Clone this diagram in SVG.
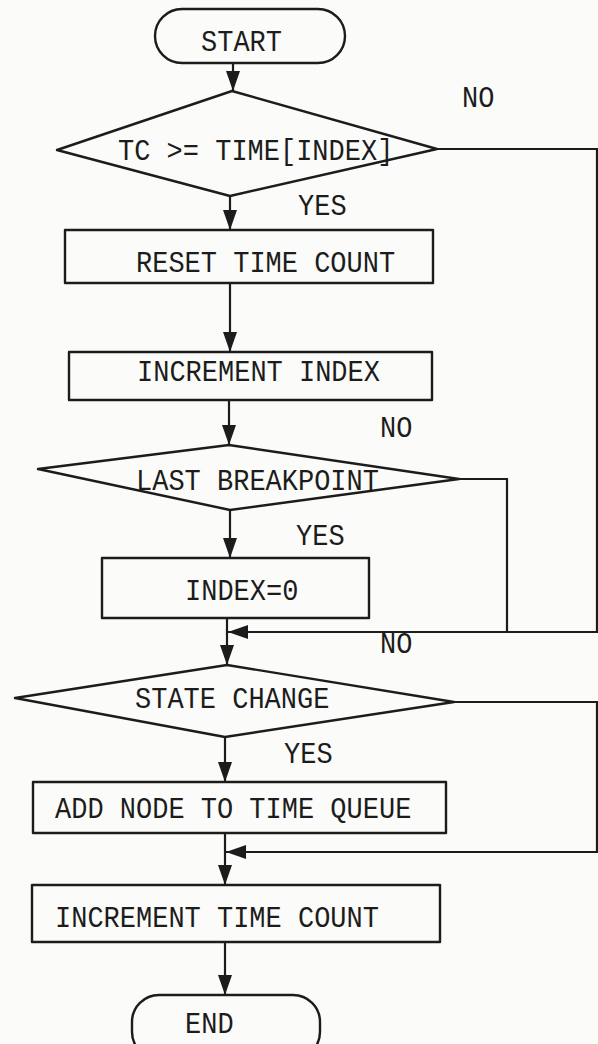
<svg xmlns="http://www.w3.org/2000/svg" width="598" height="1044" viewBox="0 0 598 1044">
  <style>
    .shape { fill: none; stroke: #1c1c1c; stroke-width: 2.4; stroke-linejoin: round; }
    .wire { fill: none; stroke: #1c1c1c; stroke-width: 2.2; }
    .lbl { font-family: "Liberation Mono", "DejaVu Sans Mono", monospace; font-size: 27px; fill: #1c1c1c; }
  </style>
  <defs>
    <marker id="arrow" viewBox="0 0 20 14" refX="20" refY="7" markerWidth="20" markerHeight="14" markerUnits="userSpaceOnUse" orient="auto">
      <path d="M0,0 L20,7 L0,14 Z" fill="#1c1c1c"/>
    </marker>
  </defs>
  <rect width="598" height="1044" fill="#fbfbf9"/>

  <!-- connectors and their branch labels -->
  <g id="connectors">
    <path class="wire" d="M233,63 V91" marker-end="url(#arrow)"/>
    <path class="wire" d="M230,196 V230" marker-end="url(#arrow)"/>
    <path class="wire" d="M437,149 H597 V632 H228" marker-end="url(#arrow)"/>
    <path class="wire" d="M230,283 V352" marker-end="url(#arrow)"/>
    <path class="wire" d="M229,400 V445" marker-end="url(#arrow)"/>
    <path class="wire" d="M230,510 V558" marker-end="url(#arrow)"/>
    <path class="wire" d="M459,479 H507 V632"/>
    <path class="wire" d="M227,618 V665" marker-end="url(#arrow)"/>
    <path class="wire" d="M454,702 H597 V852 H226" marker-end="url(#arrow)"/>
    <path class="wire" d="M225,737 V782" marker-end="url(#arrow)"/>
    <path class="wire" d="M225,833 V885" marker-end="url(#arrow)"/>
    <path class="wire" d="M225,942 V995" marker-end="url(#arrow)"/>
    <text class="lbl" transform="translate(462,107) scale(1,1.12)">NO</text>
    <text class="lbl" transform="translate(298,215) scale(1,1.12)">YES</text>
    <text class="lbl" transform="translate(380,437) scale(1,1.12)">NO</text>
    <text class="lbl" transform="translate(296,545) scale(1,1.12)">YES</text>
    <text class="lbl" transform="translate(380,653) scale(1,1.12)">NO</text>
    <text class="lbl" transform="translate(284,763) scale(1,1.12)">YES</text>
  </g>

  <g id="start">
    <rect class="shape" x="155" y="9" width="190" height="54" rx="27"/>
    <text class="lbl" transform="translate(201,51) scale(1,1.12)">START</text>
  </g>

  <g id="check-time">
    <polygon class="shape" points="232,91 437,149 230,196 57,150"/>
    <text class="lbl" transform="translate(118,160) scale(1,1.12)">TC &gt;= TIME[INDEX]</text>
  </g>

  <g id="reset-time-count">
    <rect class="shape" x="65" y="230" width="368" height="53"/>
    <text class="lbl" transform="translate(136,272) scale(1,1.12)">RESET TIME COUNT</text>
  </g>

  <g id="increment-index">
    <rect class="shape" x="69" y="352" width="363" height="48"/>
    <text class="lbl" transform="translate(137,381) scale(1,1.12)">INCREMENT INDEX</text>
  </g>

  <g id="last-breakpoint">
    <polygon class="shape" points="229,445 459,479 230,510 38,469"/>
    <text class="lbl" transform="translate(136,490) scale(1,1.12)">LAST BREAKPOINT</text>
  </g>

  <g id="index-zero">
    <rect class="shape" x="102" y="558" width="267" height="60"/>
    <text class="lbl" transform="translate(185,600) scale(1,1.12)">INDEX=0</text>
  </g>

  <g id="state-change">
    <polygon class="shape" points="227,665 454,702 225,737 15,698"/>
    <text class="lbl" transform="translate(135,708) scale(1,1.12)">STATE CHANGE</text>
  </g>

  <g id="add-node">
    <rect class="shape" x="33" y="782" width="413" height="51"/>
    <text class="lbl" transform="translate(55,818) scale(1,1.12)">ADD NODE TO TIME QUEUE</text>
  </g>

  <g id="increment-time-count">
    <rect class="shape" x="32" y="885" width="408" height="57"/>
    <text class="lbl" transform="translate(55,927) scale(1,1.12)">INCREMENT TIME COUNT</text>
  </g>

  <g id="end">
    <rect class="shape" x="132" y="995" width="188" height="64" rx="27"/>
    <text class="lbl" transform="translate(185,1033) scale(1,1.1)">END</text>
  </g>
</svg>
